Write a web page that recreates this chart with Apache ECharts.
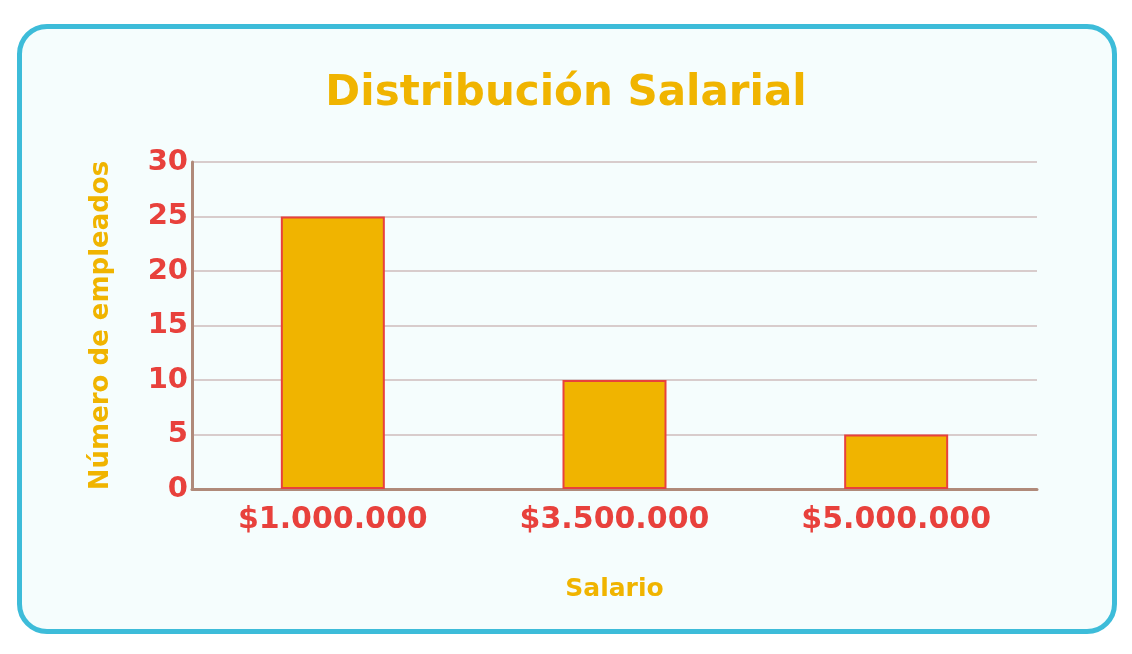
<!DOCTYPE html>
<html><head><meta charset="utf-8">
<script src="https://cdn.jsdelivr.net/npm/echarts@6/dist/echarts.min.js"></script>
<style>
html,body{margin:0;padding:0;background:#fff;}
#frame{position:absolute;left:17px;top:24px;width:1090px;height:600px;border:5px solid #3dbcd9;border-radius:30px;background:#f5fdfd;}
#c{position:absolute;left:0;top:0;width:1132px;height:654px;}
</style></head>
<body>
<div id="frame"></div>
<div id="c"></div>
<script>
const categories = ['$1.000.000', '$3.500.000', '$5.000.000'];
const employees = [25, 10, 5];
const yTicks = [0, 5, 10, 15, 20, 25, 30];

const chart = echarts.init(document.getElementById('c'));
const font = 'DejaVu Sans';
chart.setOption({
  backgroundColor: 'transparent',
  title: {text: 'Distribución Salarial', left: 'center', top: 68,
    textStyle: {color: '#f0b400', fontSize: 42, fontWeight: 'bold', fontFamily: font}},
  grid: {left: 192, right: 95, top: 162, bottom: 165},
  xAxis: {type: 'category', data: categories,
    name: 'Salario', nameLocation: 'middle', nameGap: 88,
    nameTextStyle: {color: '#f0b400', fontSize: 25, fontWeight: 'bold', fontFamily: font},
    axisLine: {lineStyle: {color: '#b08a7a', width: 3}},
    axisTick: {show: false},
    axisLabel: {color: '#e8413c', fontSize: 30, fontWeight: 'bold', fontFamily: font, margin: 16}},
  yAxis: {type: 'value', min: yTicks[0], max: yTicks[yTicks.length-1], interval: 5,
    name: 'Número de empleados', nameLocation: 'middle', nameGap: 78, nameRotate: 90,
    nameTextStyle: {color: '#f0b400', fontSize: 26, fontWeight: 'bold', fontFamily: font},
    axisLine: {show: true, lineStyle: {color: '#b08a7a', width: 3}},
    axisTick: {show: false},
    splitLine: {lineStyle: {color: '#d8cccc', width: 2}},
    axisLabel: {color: '#e8413c', fontSize: 29, fontWeight: 'bold', fontFamily: font, margin: 4}},
  series: [{type: 'bar', data: employees, barWidth: 104,
    itemStyle: {color: '#f0b400', borderColor: '#e8413c', borderWidth: 2}}]
});
</script>
</body></html>
